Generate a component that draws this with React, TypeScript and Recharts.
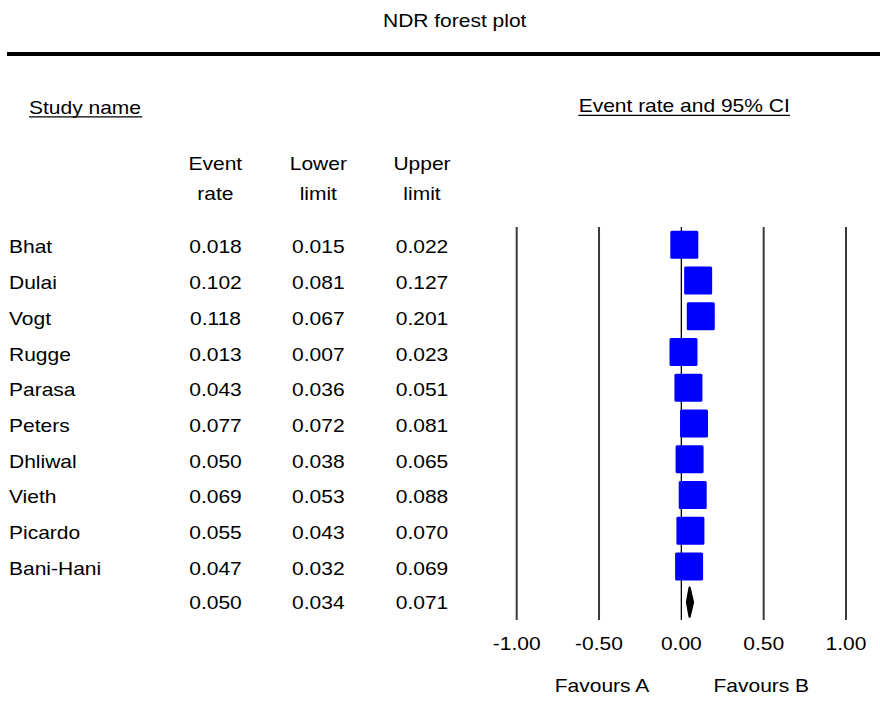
import React from "react";
import { ScatterChart, Scatter, XAxis, YAxis, ReferenceLine, ErrorBar } from "recharts";

// study table
const studyNames = ["Bhat", "Dulai", "Vogt", "Rugge", "Parasa", "Peters", "Dhliwal", "Vieth", "Picardo", "Bani-Hani"];
const eventRate = [0.018, 0.102, 0.118, 0.013, 0.043, 0.077, 0.05, 0.069, 0.055, 0.047];
const lowerLimit = [0.015, 0.081, 0.067, 0.007, 0.036, 0.072, 0.038, 0.053, 0.043, 0.032];
const upperLimit = [0.022, 0.127, 0.201, 0.023, 0.051, 0.081, 0.065, 0.088, 0.07, 0.069];

// pooled estimate
const pooledRate = 0.05;
const pooledLower = 0.034;
const pooledUpper = 0.071;

const axisTicks = [-1, -0.5, 0, 0.5, 1];

const W = 880;
const H = 728;
const FONT = '"Liberation Sans", Arial, Helvetica, sans-serif';
const STRETCH = 1.2;
const BOX = 28;
const POOLED_ROW = studyNames.length;
const DIAMOND_HALF = 0.41;

const rows = [...studyNames.map((_, i) => i), POOLED_ROW];

const studyPoints = studyNames.map((name, i) => ({
  name,
  x: eventRate[i],
  y: i,
  ci: [eventRate[i] - lowerLimit[i], upperLimit[i] - eventRate[i]],
}));

const diamondPoints = [
  { x: pooledLower, y: POOLED_ROW },
  { x: pooledRate, y: POOLED_ROW - DIAMOND_HALF },
  { x: pooledUpper, y: POOLED_ROW },
  { x: pooledRate, y: POOLED_ROW + DIAMOND_HALF },
];

function Txt({ x, y, anchor = "middle", children }: any) {
  return (
    <text
      transform={`translate(${x} ${y}) scale(${STRETCH} 1)`}
      textAnchor={anchor}
      fontFamily={FONT}
      fontSize={17.5}
      fill="#000"
    >
      {children}
    </text>
  );
}

// left-hand table, one y tick per row
function TableRow(props: any) {
  const { y, payload } = props;
  const i = payload.value;
  const pooled = i === POOLED_ROW;
  const base = y + (pooled ? 6.5 : 8.5);
  const rate = pooled ? pooledRate : eventRate[i];
  const lo = pooled ? pooledLower : lowerLimit[i];
  const hi = pooled ? pooledUpper : upperLimit[i];
  return (
    <g>
      {!pooled && (
        <Txt x={9} y={base} anchor="start">
          {studyNames[i]}
        </Txt>
      )}
      <Txt x={215.5} y={base}>{rate.toFixed(3)}</Txt>
      <Txt x={318.3} y={base}>{lo.toFixed(3)}</Txt>
      <Txt x={422} y={base}>{hi.toFixed(3)}</Txt>
    </g>
  );
}

function AxisTick(props: any) {
  const { x, y, payload } = props;
  return (
    <Txt x={x} y={y + 30}>
      {Number(payload.value).toFixed(2)}
    </Txt>
  );
}

function StudyBox(props: any) {
  const { cx, cy } = props;
  return <rect x={cx - BOX / 2} y={cy - BOX / 2} width={BOX} height={BOX} rx={1.5} fill="#0000ff" />;
}

function Diamond(props: any) {
  const pts = (props.points || []).map((p: any) => `${p.x},${p.y}`).join(" ");
  return <polygon points={pts} fill="#000" stroke="#000" strokeWidth={2.2} strokeLinejoin="round" />;
}

export default function App() {
  return (
    <div style={{ position: "absolute", left: 0, top: 0, width: W, height: H, background: "#fff" }}>
      <ScatterChart width={W} height={H} margin={{ top: 227, right: 34, bottom: 78, left: 0 }}>
        <XAxis
          type="number"
          dataKey="x"
          domain={[-1, 1]}
          ticks={axisTicks}
          interval={0}
          allowDataOverflow
          axisLine={false}
          tickLine={false}
          tickSize={0}
          tickMargin={0}
          height={30}
          tick={AxisTick}
        />
        <YAxis
          type="number"
          dataKey="y"
          domain={[-0.5, POOLED_ROW + 0.5]}
          reversed
          ticks={rows}
          interval={0}
          axisLine={false}
          tickLine={false}
          width={516.7}
          tick={TableRow}
        />
        {axisTicks.map((v) => (
          <ReferenceLine
            key={v}
            x={v}
            stroke={v === 0 ? "#000" : "#3a3a3a"}
            strokeWidth={v === 0 ? 1.3 : 2}
          />
        ))}
        <Scatter data={studyPoints} fill="#0000ff" shape={StudyBox} isAnimationActive={false}>
          <ErrorBar dataKey="ci" direction="x" width={0} stroke="#000" strokeWidth={2} />
        </Scatter>
        <Scatter
          data={diamondPoints}
          fill="#000"
          shape={() => <g />}
          line={Diamond}
          lineType="joint"
          isAnimationActive={false}
        />
      </ScatterChart>

      <svg
        width={W}
        height={H}
        style={{ position: "absolute", left: 0, top: 0, pointerEvents: "none" }}
      >
        <Txt x={454.7} y={26.7}>NDR forest plot</Txt>
        <rect x={7} y={52} width={W - 7} height={4} fill="#000" />

        <Txt x={29} y={113.5} anchor="start">Study name</Txt>
        <line x1={29} x2={142.3} y1={116.8} y2={116.8} stroke="#000" strokeWidth={1.2} />
        <Txt x={684.2} y={112} anchor="middle">Event rate and 95% CI</Txt>
        <line x1={578.3} x2={790} y1={115.3} y2={115.3} stroke="#000" strokeWidth={1.2} />

        <Txt x={215.3} y={170}>Event</Txt>
        <Txt x={215.3} y={200}>rate</Txt>
        <Txt x={318.3} y={170}>Lower</Txt>
        <Txt x={318.3} y={200}>limit</Txt>
        <Txt x={422} y={170}>Upper</Txt>
        <Txt x={422} y={200}>limit</Txt>

        <Txt x={602} y={692}>Favours A</Txt>
        <Txt x={761.3} y={692}>Favours B</Txt>
      </svg>
    </div>
  );
}
